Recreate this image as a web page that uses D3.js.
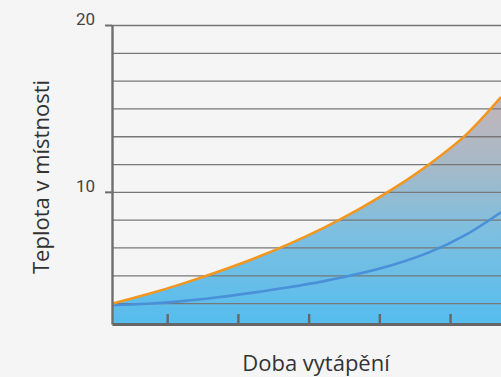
<!DOCTYPE html>
<html>
<head>
<meta charset="utf-8">
<script src="https://cdn.jsdelivr.net/npm/d3@7"></script>
<style>
  html, body { margin: 0; padding: 0; background: #f5f5f5; }
  svg { display: block; font-family: Roboto, "Noto Sans", sans-serif; }
</style>
</head>
<body>
<svg id="chart" width="501" height="377"></svg>
<script>
// Heating time (arbitrary units) and the two temperature curves
const timeSteps = [0, 0.5, 1, 1.5, 2, 2.5, 3, 3.5, 4, 4.5, 5, 5.5];
const airTemp  = [3.30, 3.86, 4.50, 5.21, 5.99, 6.87, 7.86, 8.98, 10.25, 11.70, 13.40, 15.68];
const wallTemp = [3.20, 3.29, 3.45, 3.68, 3.96, 4.28, 4.65, 5.10, 5.66, 6.40, 7.42, 8.78];

// Axis ticks
const yLabelTicks = [10, 20];
const yGridValues = [2, 3, 4, 5, 6, 7, 8, 9, 10, 11, 12].map(k => 20 * k / 12);
const xTickValues = [0.78, 1.78, 2.78, 3.78, 4.78];

const xTitle = "Doba vytápění";
const yTitle = "Teplota v místnosti";

const svg = d3.select("#chart");
const plotLeft = 112, plotRight = 501, plotTop = 25, plotBottom = 324;

const x = d3.scaleLinear().domain([0, 5.5]).range([plotLeft, plotRight]);
const y = d3.scaleLinear().domain([2.08, 20]).range([plotBottom, plotTop]);

// Vertical gradient for the area under the air temperature curve
const defs = svg.append("defs");
const grad = defs.append("linearGradient")
  .attr("id", "heatFill")
  .attr("gradientUnits", "userSpaceOnUse")
  .attr("x1", 0).attr("x2", 0)
  .attr("y1", plotBottom).attr("y2", 95);
grad.append("stop").attr("offset", "0%").attr("stop-color", "#55bdee");
grad.append("stop").attr("offset", "40%").attr("stop-color", "#7dbfe0");
grad.append("stop").attr("offset", "70%").attr("stop-color", "#a7b9c7");
grad.append("stop").attr("offset", "100%").attr("stop-color", "#c4b5b8");

const pts = timeSteps.map((t, i) => ({ t, air: airTemp[i], wall: wallTemp[i] }));
const smooth = d3.curveCatmullRom.alpha(0.5);

svg.append("path")
  .datum(pts)
  .attr("fill", "url(#heatFill)")
  .attr("d", d3.area()
    .x(d => x(d.t))
    .y0(y(2.08))
    .y1(d => y(d.air))
    .curve(smooth));

// Horizontal grid lines
const grid = svg.append("g")
  .attr("transform", `translate(${plotLeft},0)`)
  .call(d3.axisLeft(y).tickValues(yGridValues).tickSize(-(plotRight - plotLeft)).tickFormat(""));
grid.select(".domain").remove();
grid.selectAll(".tick line").attr("stroke", "#777").attr("stroke-width", 1.3);

// Curves
svg.append("path")
  .datum(pts)
  .attr("fill", "none")
  .attr("stroke", "#4a90d9")
  .attr("stroke-width", 2.6)
  .attr("d", d3.line().x(d => x(d.t)).y(d => y(d.wall)).curve(smooth));

svg.append("path")
  .datum(pts)
  .attr("fill", "none")
  .attr("stroke", "#f3961f")
  .attr("stroke-width", 2.6)
  .attr("d", d3.line().x(d => x(d.t)).y(d => y(d.air)).curve(smooth));

// Y axis with labelled ticks
const yAxis = svg.append("g")
  .attr("transform", `translate(${plotLeft},0)`)
  .call(d3.axisLeft(y).tickValues(yLabelTicks).tickSize(7).tickPadding(10).tickSizeOuter(0));
yAxis.select(".domain").attr("stroke", "#6e6e6e").attr("stroke-width", 2.4);
yAxis.selectAll(".tick line").attr("stroke", "#6e6e6e").attr("stroke-width", 2);
yAxis.selectAll(".tick text")
  .attr("fill", "#444")
  .attr("font-size", 17)
  .attr("font-family", "Roboto, sans-serif")
  .attr("dy", "-0.05em");

// X axis with inward ticks
const xAxis = svg.append("g")
  .attr("transform", `translate(0,${plotBottom})`)
  .call(d3.axisBottom(x).tickValues(xTickValues).tickSize(-10).tickSizeOuter(0).tickFormat(""));
xAxis.select(".domain").attr("stroke", "#666").attr("stroke-width", 2.8);
xAxis.selectAll(".tick line").attr("stroke", "#666").attr("stroke-width", 2.4);

// Axis titles
svg.append("text")
  .attr("x", 316).attr("y", 371)
  .attr("text-anchor", "middle")
  .attr("font-family", "'Open Sans', sans-serif")
  .attr("font-size", 22)
  .attr("fill", "#333")
  .text(xTitle);

svg.append("text")
  .attr("transform", "translate(49,177) rotate(-90)")
  .attr("text-anchor", "middle")
  .attr("font-family", "'Open Sans', sans-serif")
  .attr("font-size", 22)
  .attr("fill", "#333")
  .text(yTitle);
</script>
</body>
</html>
